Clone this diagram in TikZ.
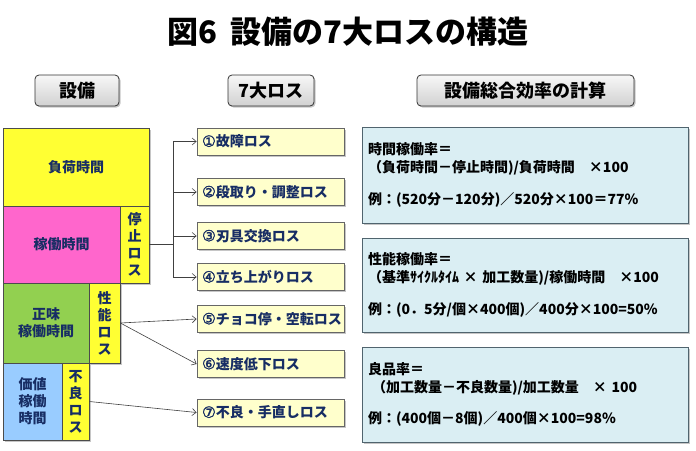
\documentclass[tikz,border=0pt]{standalone}
\usepackage{fontspec}
\setmainfont{Noto Sans CJK JP}
\newfontfamily\circf{DejaVu Sans}[FakeBold=1.6]
\newcommand\cnum[1]{{\circf\mdseries\fontsize{15.5}{17}\selectfont #1}}
\usetikzlibrary{arrows.meta,shadows}
\definecolor{navy}{RGB}{23,45,100}
\definecolor{lossyel}{RGB}{255,255,51}
\definecolor{kadoupink}{RGB}{255,102,204}
\definecolor{shoumigreen}{RGB}{146,208,80}
\definecolor{kachiblue}{RGB}{153,204,255}
\definecolor{itemyel}{RGB}{255,255,204}
\definecolor{calcblue}{RGB}{218,238,243}
\definecolor{calcline}{RGB}{80,100,110}
\begin{document}
\begin{tikzpicture}[x=1pt,y=-1pt,
  shade/.style={drop shadow={shadow xshift=1.5pt,shadow yshift=-1.5pt,opacity=.45}},
  head/.style={draw=black!80,line width=.8pt,rounded corners=4pt,top color=black!3,bottom color=black!18,minimum height=31,font=\fontsize{18}{18}\selectfont\bfseries,shade},
  blk/.style={draw=black!70,line width=.8pt,inner sep=0pt,align=center,text=navy,font=\fontsize{14}{17}\selectfont\bfseries,shade},
  item/.style={draw=black!60,line width=.8pt,fill=itemyel,minimum width=147,minimum height=27,text width=137,inner xsep=5,align=left,text=navy,font=\fontsize{14}{17}\selectfont\bfseries,shade},
  calc/.style={draw=calcline,line width=1pt,fill=calcblue,minimum width=326,text width=314,inner xsep=6,align=left,font=\fontsize{14}{18}\selectfont\bfseries,shade},
  arr/.style={draw=black!75,line width=.6pt,-{Straight Barb[length=4pt,width=7pt]}}]
\useasboundingbox (0,0) rectangle (696,450);
\node (title) at (348,32) {\fontsize{31}{34}\selectfont\bfseries 図6\hspace{.45em}設備の7大ロスの構造};
\node[head,minimum width=84] (h1) at (77,90.5) {設備};
\node[head,minimum width=86] (h2) at (271,90.5) {7大ロス};
\node[head,minimum width=217] (h3) at (525.5,90.5) {設備総合効率の計算};
\node[blk,fill=lossyel,minimum width=146,minimum height=78] (fuka) at (76,167) {負荷時間};
\node[blk,fill=kadoupink,minimum width=117,minimum height=77] (kadou) at (61.5,244.5) {稼働時間};
\node[blk,fill=lossyel,minimum width=29,minimum height=77] (teishi) at (134.5,244.5) {停\\止\\ロ\\ス};
\node[blk,fill=shoumigreen,minimum width=86,minimum height=80] (shoumi) at (46,323) {正味\\稼働時間};
\node[blk,fill=lossyel,minimum width=31,minimum height=80] (seino) at (104.5,323) {性\\能\\ロ\\ス};
\node[blk,fill=kachiblue,minimum width=59,minimum height=77] (kachi) at (32.5,401.5) {価値\\稼働\\時間};
\node[blk,fill=lossyel,minimum width=27,minimum height=77] (furyo) at (75.5,401.5) {不\\良\\ロ\\ス};
\node[item] (l1) at (270.5,141.5) {\cnum{①}故障ロス};
\node[item] (l2) at (270.5,192) {\cnum{②}段取り・調整ロス};
\node[item] (l3) at (270.5,236) {\cnum{③}刃具交換ロス};
\node[item] (l4) at (270.5,277) {\cnum{④}立ち上がりロス};
\node[item] (l5) at (270.5,319) {\cnum{⑤}チョコ停・空転ロス};
\node[item] (l6) at (270.5,364) {\cnum{⑥}速度低下ロス};
\node[item] (l7) at (270.5,412.5) {\cnum{⑦}不良・手直しロス};
\coordinate (trunk) at (173,0);
\draw[black!75,line width=.6pt] (teishi.east) -- (teishi.east -| trunk);
\draw[black!75,line width=.6pt] (trunk |- l1.west) -- (trunk |- l4.west);
\foreach \i in {1,...,4}
  \draw[arr] (trunk |- l\i.west) -- (l\i.west);
\draw[arr] (seino.east) -- (l5.west);
\draw[arr] (seino.east) -- (l6.west);
\draw[arr] (furyo.east) -- (l7.west);
\node[calc,minimum height=96] (c1) at (525,175) {時間稼働率＝\\（負荷時間－停止時間)/負荷時間　×100\\[14pt]例：(520分－120分)／520分×100＝77\%};
\node[calc,minimum height=94] (c2) at (525,285) {性能稼働率＝\\（基準ｻｲｸﾙﾀｲﾑ × 加工数量)/稼働時間　×100\\[14pt]例：(0．5分/個×400個)／400分×100=50\%};
\node[calc,minimum height=95] (c3) at (525,394.5) {良品率＝\\\hspace{4pt}（加工数量－不良数量)/加工数量　× 100\\[13pt]例：(400個－8個)／400個×100=98\%};
\end{tikzpicture}
\end{document}
